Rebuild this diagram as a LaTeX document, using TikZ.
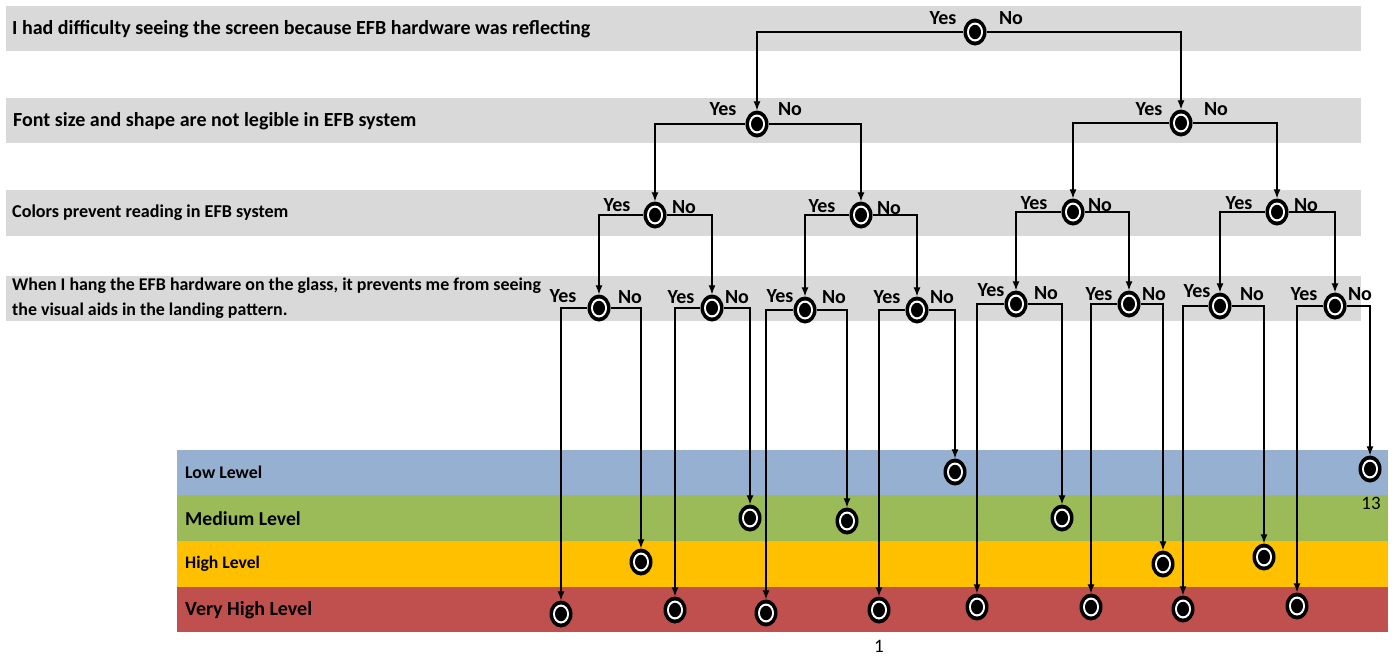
\documentclass[tikz,border=0pt]{standalone}
\usepackage{fontspec}
\setmainfont{Carlito}
\usetikzlibrary{shapes.geometric,arrows.meta}
\definecolor{bandgray}{HTML}{D9D9D9}
\definecolor{lowc}{HTML}{95B0D0}
\definecolor{medc}{HTML}{9BBB59}
\definecolor{highc}{HTML}{FFC000}
\definecolor{vhighc}{HTML}{C0504D}
\tikzset{
  dec/.style={ellipse,fill=black,minimum width=23pt,minimum height=27pt,inner sep=0pt,
    path picture={\fill[white] (path picture bounding box.center) ellipse (8pt and 9.5pt);
                  \fill[black] (path picture bounding box.center) ellipse (6pt and 7.2pt);}},
  arr/.style={draw,line width=1.2pt,-{Latex[length=9pt,width=7pt]}},
  yn/.style={font=\bfseries\fontsize{20}{22}\selectfont,inner sep=0pt},
  qtext/.style={font=\bfseries\fontsize{20}{22}\selectfont,anchor=west,inner sep=0pt,align=left},
  lvl/.style={font=\bfseries,anchor=west,inner sep=0pt},
}
\begin{document}
\begin{tikzpicture}[x=1pt,y=-1pt]
\useasboundingbox (0,0) rectangle (1396,657);
% gray bands
\fill[bandgray] (6,6) rectangle (1361,51);
\fill[bandgray] (6,98) rectangle (1361,143);
\fill[bandgray] (6,190) rectangle (1361,236);
\fill[bandgray] (6,276) rectangle (1361,321);
% level bands
\fill[lowc] (177,450) rectangle (1388,495);
\fill[medc] (177,495) rectangle (1388,541);
\fill[highc] (177,541) rectangle (1388,587);
\fill[vhighc] (177,587) rectangle (1388,632);
% question texts
\node[qtext] (q1) at (12,29) {I had difficulty seeing the screen because EFB hardware was reflecting};
\node[qtext] (q2) at (13,121) {Font size and shape are not legible in EFB system};
\node[qtext,font=\bfseries\fontsize{18.1}{20}\selectfont] (q3) at (12,213) {Colors prevent reading in EFB system};
\node[qtext,font=\bfseries\fontsize{17.9}{25}\selectfont] (q4) at (12,298.5) {When I hang the EFB hardware on the glass, it prevents me from seeing\\the visual aids in the landing pattern.};
% level texts
\node[lvl,font=\bfseries\fontsize{17.8}{20}\selectfont] (l1) at (185,472) {Low Lewel};
\node[lvl,font=\bfseries\fontsize{19.7}{22}\selectfont] (l2) at (185,519) {Medium Level};
\node[lvl,font=\bfseries\fontsize{17.6}{20}\selectfont] (l3) at (185,564) {High Level};
\node[lvl,font=\bfseries\fontsize{20}{22}\selectfont] (l4) at (185,610) {Very High Level};
% decision nodes
\node[dec] (a) at (975,32) {};
\node[dec] (b1) at (757,124) {};
\node[dec] (b2) at (1181,123) {};
\node[dec] (c1) at (655,215) {};
\node[dec] (c2) at (861,215) {};
\node[dec] (c3) at (1073,212) {};
\node[dec] (c4) at (1277,212) {};
\node[dec] (d1) at (599,308) {};
\node[dec] (d2) at (712,308) {};
\node[dec] (d3) at (805,310) {};
\node[dec] (d4) at (917,310) {};
\node[dec] (d5) at (1016,304) {};
\node[dec] (d6) at (1129,304) {};
\node[dec] (d7) at (1220,306) {};
\node[dec] (d8) at (1335,306) {};
% leaves
\node[dec] (v1) at (561,614) {};
\node[dec] (v2) at (675,610) {};
\node[dec] (v3) at (766,613) {};
\node[dec] (v4) at (879,610) {};
\node[dec] (v5) at (977,607) {};
\node[dec] (v6) at (1091,607) {};
\node[dec] (v7) at (1183,609) {};
\node[dec] (v8) at (1297,606) {};
\node[dec] (h1) at (641,562) {};
\node[dec] (m1) at (750,518) {};
\node[dec] (m2) at (847,521) {};
\node[dec] (w1) at (955,472) {};
\node[dec] (m3) at (1062,518) {};
\node[dec] (h2) at (1163,564) {};
\node[dec] (h3) at (1264,557) {};
\node[dec] (w2) at (1370,469) {};
% connectors
\draw[arr] (a) -| (b1);  \draw[arr] (a) -| (b2);
\draw[arr] (b1) -| (c1); \draw[arr] (b1) -| (c2);
\draw[arr] (b2) -| (c3); \draw[arr] (b2) -| (c4);
\draw[arr] (c1) -| (d1); \draw[arr] (c1) -| (d2);
\draw[arr] (c2) -| (d3); \draw[arr] (c2) -| (d4);
\draw[arr] (c3) -| (d5); \draw[arr] (c3) -| (d6);
\draw[arr] (c4) -| (d7); \draw[arr] (c4) -| (d8);
\draw[arr] (d1) -| (v1); \draw[arr] (d1) -| (h1);
\draw[arr] (d2) -| (v2); \draw[arr] (d2) -| (m1);
\draw[arr] (d3) -| (v3); \draw[arr] (d3) -| (m2);
\draw[arr] (d4) -| (v4); \draw[arr] (d4) -| (w1);
\draw[arr] (d5) -| (v5); \draw[arr] (d5) -| (m3);
\draw[arr] (d6) -| (v6); \draw[arr] (d6) -| (h2);
\draw[arr] (d7) -| (v7); \draw[arr] (d7) -| (h3);
\draw[arr] (d8) -| (v8); \draw[arr] (d8) -| (w2);
% Yes / No labels
\node[yn] (ya) at (943,18) {Yes}; \node[yn] (na) at (1011,18) {No};
\node[yn] (yb1) at (723,109) {Yes}; \node[yn] (nb1) at (790,109) {No};
\node[yn] (yb2) at (1149,109) {Yes}; \node[yn] (nb2) at (1216,109) {No};
\node[yn] (yc1) at (617,205) {Yes}; \node[yn] (nc1) at (684,207) {No};
\node[yn] (yc2) at (822,206) {Yes}; \node[yn] (nc2) at (889,208) {No};
\node[yn] (yc3) at (1034,203) {Yes}; \node[yn] (nc3) at (1100,205) {No};
\node[yn] (yc4) at (1239,203) {Yes}; \node[yn] (nc4) at (1306,205) {No};
\node[yn] (yd1) at (563,296) {Yes}; \node[yn] (nd1) at (630,297) {No};
\node[yn] (yd2) at (681,297) {Yes}; \node[yn] (nd2) at (737,297) {No};
\node[yn] (yd3) at (780,296) {Yes}; \node[yn] (nd3) at (834,297) {No};
\node[yn] (yd4) at (887,297) {Yes}; \node[yn] (nd4) at (942,297) {No};
\node[yn] (yd5) at (991,290) {Yes}; \node[yn] (nd5) at (1046,293) {No};
\node[yn] (yd6) at (1099,294) {Yes}; \node[yn] (nd6) at (1154,294) {No};
\node[yn] (yd7) at (1197,291) {Yes}; \node[yn] (nd7) at (1252,294) {No};
\node[yn] (yd8) at (1304,294) {Yes}; \node[yn] (nd8) at (1360,294) {No};
% numbers
\node[font=\fontsize{19}{22}\selectfont,inner sep=0pt] (n13) at (1371,503) {13};
\node[font=\fontsize{19}{22}\selectfont,inner sep=0pt] (n1) at (879,646) {1};
\end{tikzpicture}
\end{document}
